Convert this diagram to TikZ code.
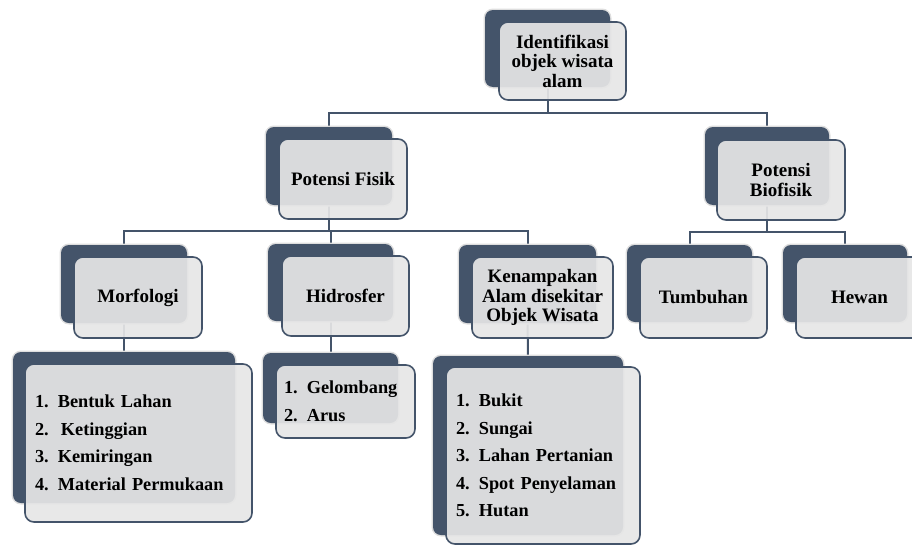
\documentclass[tikz,border=0pt]{standalone}
\usepackage{fontspec}
\setmainfont{Liberation Serif}
\usetikzlibrary{backgrounds}
\definecolor{dk}{RGB}{68,84,106}
\definecolor{lt}{RGB}{230,230,230}
\tikzset{
  backbox/.style={fill=dk, rounded corners=8pt, inner sep=0pt, preaction={draw=black!13, line width=3pt}},
  frontbox/.style={fill=lt, fill opacity=0.92, text opacity=1, draw=dk, draw opacity=1, line width=1.6pt,
    rounded corners=9pt, inner sep=0pt, align=center, font=\bfseries\fontsize{19}{19.5}\selectfont},
  listbox/.style={frontbox, align=left, inner xsep=10pt, inner ysep=0pt, font=\bfseries\fontsize{18.3}{27.5}\selectfont},
  conn/.style={draw=dk, line width=2pt},
}
\begin{document}
\begin{tikzpicture}[x=1pt,y=-1pt]
\useasboundingbox (0,0) rectangle (912,546);
\clip (0,0) rectangle (912,546);
% level 0
\node[backbox, minimum width=125, minimum height=77] (topB) at (547.5,48.5) {};
\node[frontbox, minimum width=127, minimum height=78] (topF) at (562.5,61) {Identifikasi\\objek wisata\\alam};
% level 1
\node[backbox, minimum width=126, minimum height=78] (fisB) at (329,166) {};
\node[frontbox, minimum width=128, minimum height=80] (fisF) at (343,179) {Potensi Fisik};
\node[backbox, minimum width=124, minimum height=78] (bioB) at (767,166) {};
\node[frontbox, minimum width=128, minimum height=80] (bioF) at (781,180) {Potensi\\Biofisik};
% level 2
\node[backbox, minimum width=126, minimum height=78] (morB) at (124,284) {};
\node[frontbox, minimum width=128, minimum height=81] (morF) at (138,297.5) {Morfologi};
\node[backbox, minimum width=125, minimum height=77] (hidB) at (330.5,282.5) {};
\node[frontbox, minimum width=127, minimum height=80] (hidF) at (345.5,296) {Hidrosfer};
\node[backbox, minimum width=137, minimum height=78] (kenB) at (527.5,284) {};
\node[frontbox, minimum width=141, minimum height=81] (kenF) at (542.5,297.5) {Kenampakan\\Alam disekitar\\Objek Wisata};
\node[backbox, minimum width=125, minimum height=77] (tumB) at (689.5,283.5) {};
\node[frontbox, minimum width=127, minimum height=81] (tumF) at (703.5,297.5) {Tumbuhan};
\node[backbox, minimum width=124, minimum height=77] (hewB) at (845,283.5) {};
\node[frontbox, minimum width=127, minimum height=81] (hewF) at (859.5,297.5) {Hewan};
% level 3 lists
\node[backbox, minimum width=222, minimum height=151] (morLB) at (124,427.5) {};
\node[listbox, text width=207, minimum height=158] (morLF) at (138.5,443) {1. Bentuk Lahan\\2.\ \ Ketinggian\\3. Kemiringan\\4. Material Permukaan};
\node[backbox, minimum width=135, minimum height=70] (hidLB) at (330.5,388) {};
\node[listbox, text width=123, inner xsep=8pt, minimum height=73] (hidLF) at (345.5,401.5) {1. Gelombang\\2. Arus};
\node[backbox, minimum width=190, minimum height=179] (kenLB) at (528,445.5) {};
\node[listbox, text width=174, minimum height=177] (kenLF) at (543,455.5) {1. Bukit\\2. Sungai\\3. Lahan Pertanian\\4. Spot Penyelaman\\5. Hutan};
% connectors
\begin{scope}[on background layer]
\draw[conn] (topB.south) -- ++(0,26) -| (fisB.north);
\draw[conn] (topB.south) -- ++(0,26) -| (bioB.north);
\draw[conn] (fisB.south) -- ++(0,26) -| (morB.north);
\draw[conn] (fisB.south) -- ++(0,26) -| (hidB.north);
\draw[conn] (fisB.south) -- ++(0,26) -| (kenB.north);
\draw[conn] (bioB.south) -- ++(0,27) -| (tumB.north);
\draw[conn] (bioB.south) -- ++(0,27) -| (hewB.north);
\draw[conn] (morB.south) -- (morLB.north);
\draw[conn] (hidB.south) -- (hidLB.north);
\draw[conn] (kenB.south) -- (kenLB.north);
\end{scope}
\end{tikzpicture}
\end{document}
